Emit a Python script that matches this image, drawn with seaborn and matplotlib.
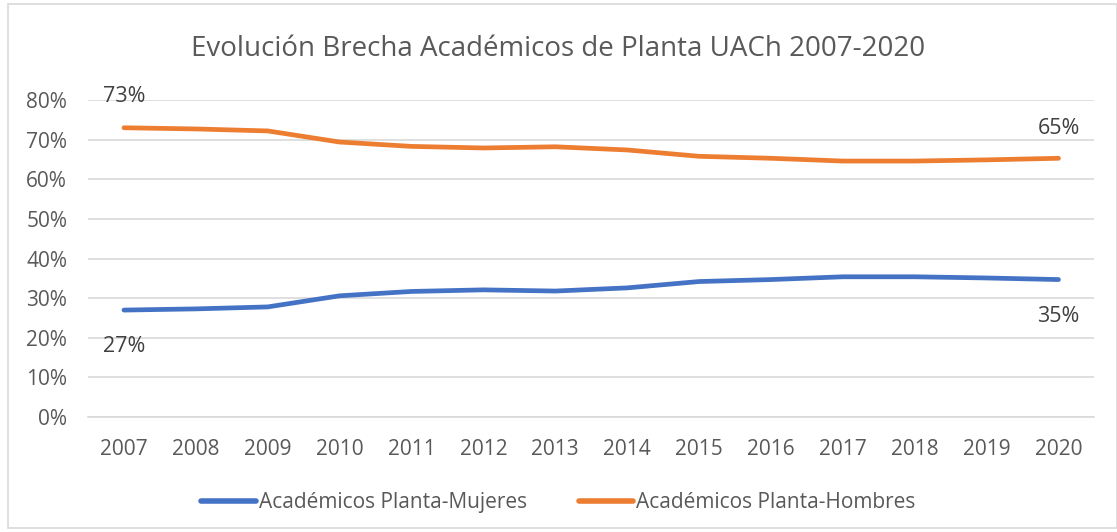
import matplotlib
matplotlib.use("Agg")
import matplotlib.pyplot as plt
import seaborn as sns
import pandas as pd
from matplotlib.patches import Rectangle
from matplotlib.ticker import FuncFormatter

years = ["2007", "2008", "2009", "2010", "2011", "2012", "2013",
         "2014", "2015", "2016", "2017", "2018", "2019", "2020"]
mujeres = [0.270, 0.273, 0.278, 0.306, 0.317, 0.321, 0.318,
           0.326, 0.342, 0.347, 0.354, 0.354, 0.351, 0.347]
hombres = [0.730, 0.727, 0.722, 0.694, 0.683, 0.679, 0.682,
           0.674, 0.658, 0.653, 0.646, 0.646, 0.649, 0.653]
series_names = ["Académicos Planta-Mujeres", "Académicos Planta-Hombres"]
title = "Evolución Brecha Académicos de Planta UACh 2007-2020"

df = pd.DataFrame({
    "year": years * 2,
    "value": mujeres + hombres,
    "serie": [series_names[0]] * len(years) + [series_names[1]] * len(years),
})

sns.set_theme(style="white")
plt.rcParams["font.family"] = ["Open Sans", "DejaVu Sans"]
text_color = "#595959"
fs = 15

fig = plt.figure(figsize=(11.17, 5.32), dpi=100)
ax = fig.add_axes([0.0788, 0.216, 0.901, 0.596])

palette = {series_names[0]: "#4472C4", series_names[1]: "#ED7D31"}
sns.lineplot(data=df, x="year", y="value", hue="serie", palette=palette,
             linewidth=3.4, sort=False, ax=ax, legend=True)
for ln in ax.get_lines():
    ln.set_solid_capstyle("round")
    ln.set_solid_joinstyle("round")

ax.set_ylim(0, 0.8)
ax.set_xlim(-0.5, len(years) - 0.5)
ax.set_yticks([i / 10 for i in range(9)])
ax.yaxis.set_major_formatter(FuncFormatter(lambda v, p: f"{v*100:.0f}%"))
ax.grid(axis="y", color="#d9d9d9", linewidth=1.2)
ax.set_axisbelow(True)
for s in ["top", "right", "left"]:
    ax.spines[s].set_visible(False)
ax.spines["bottom"].set_color("#d9d9d9")
ax.spines["bottom"].set_linewidth(1.2)
ax.tick_params(axis="both", colors=text_color, labelsize=fs, length=0)
ax.tick_params(axis="x", pad=16)
ax.tick_params(axis="y", pad=15)
ax.set_xlabel("")
ax.set_ylabel("")

# data labels
n = len(years) - 1
lab_kw = dict(ha="center", fontsize=15.5, color="#404040")
ax.annotate(f"{hombres[0]*100:.0f}%", (0, hombres[0]), xytext=(0, 15),
            textcoords="offset points", va="bottom", **lab_kw)
ax.annotate(f"{mujeres[0]*100:.0f}%", (0, mujeres[0]), xytext=(0, -19),
            textcoords="offset points", va="top", **lab_kw)
ax.annotate(f"{hombres[n]*100:.0f}%", (n, hombres[n]), xytext=(0, 14),
            textcoords="offset points", va="bottom", **lab_kw)
ax.annotate(f"{mujeres[n]*100:.0f}%", (n, mujeres[n]), xytext=(0, -19),
            textcoords="offset points", va="top", **lab_kw)

fig.text(0.5, 0.907, title, ha="center", va="center", fontsize=20,
         color=text_color)

handles, labels = ax.get_legend_handles_labels()
ax.legend_.remove()
leg = fig.legend(handles, labels, loc="center", bbox_to_anchor=(0.5, 0.055),
                 ncol=2, frameon=False, fontsize=fs, handlelength=2.6,
                 handletextpad=0.15, columnspacing=2.5)
for t in leg.get_texts():
    t.set_color(text_color)
for h in leg.legend_handles:
    h.set_linewidth(4)
    h.set_solid_capstyle("round")

fig.patches.append(Rectangle((8 / 1117, 4 / 532), 1 - 8 / 1117, 1 - 8 / 532,
                             transform=fig.transFigure, fill=False,
                             edgecolor="#d9d9d9", linewidth=1.2))

fig.savefig("out.png", dpi=100)
